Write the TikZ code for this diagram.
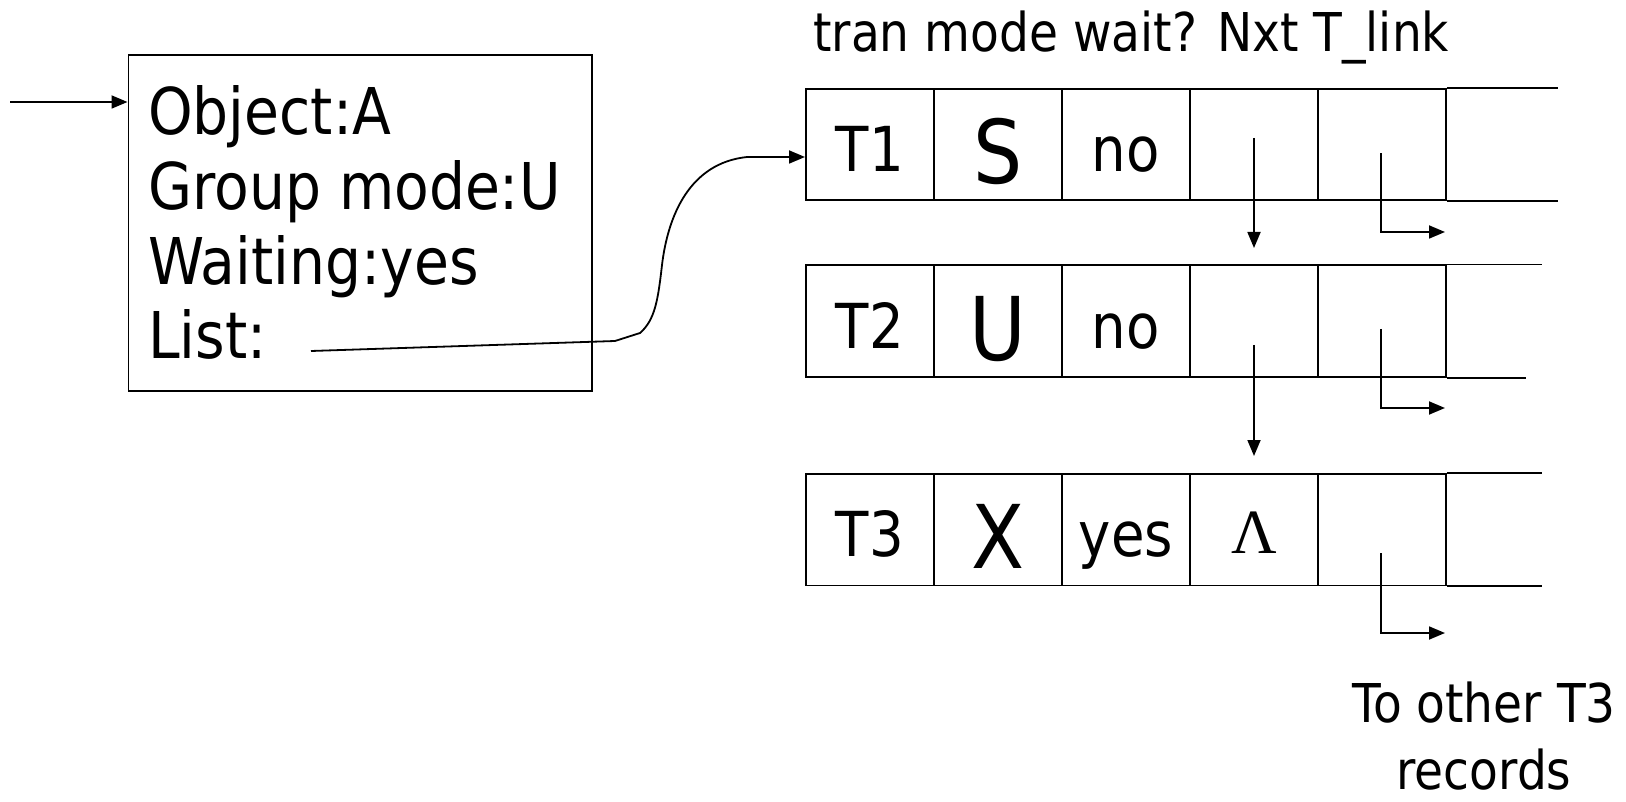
\documentclass[tikz,border=0pt]{standalone}
\usepackage{fontspec}
\setmainfont[FakeStretch=0.88]{DejaVu Sans}
\newfontfamily\grkserif{Liberation Serif}
\usetikzlibrary{arrows.meta}
\begin{document}
\begin{tikzpicture}[x=1pt,y=-1pt,
  ln/.style={line width=1.8pt},
  arr/.style={line width=1.8pt,-{Triangle[length=16pt,width=13pt]}},
  cellbox/.style={draw,line width=1.8pt,minimum width=128pt,minimum height=111.5pt,
    inner sep=0pt,anchor=north west,text height=83pt,text depth=28.5pt,
    font=\fontsize{62}{74}\selectfont},
  bigcell/.style={cellbox,text height=95pt,text depth=16.5pt,font=\fontsize{88}{100}\selectfont},
  lamcell/.style={cellbox,text height=80pt,text depth=31.5pt,font=\fontsize{63}{74}\grkserif},
  boxtxt/.style={anchor=base west,inner sep=0pt,font=\fontsize{64.5}{76}\selectfont},
  lbl/.style={inner sep=0pt,font=\fontsize{53.5}{62}\selectfont}]
\useasboundingbox (0,0) rectangle (1626,802);

% object box
\node[draw,line width=1.8pt,minimum width=463.5pt,minimum height=336pt,anchor=north west,inner sep=0pt] (obj) at (127.5,54) {};
\node[boxtxt] (objA) at (148,135) {Object:A};
\node[boxtxt] (grp) at (148,209.5) {Group mode:U};
\node[boxtxt] (wt) at (148,285) {Waiting:yes};
\node[boxtxt] (lst) at (148,359) {List:};

\coordinate (inA) at (10,102);
\draw[arr] (inA) -- (inA -| obj.west);

% header
\node[lbl,anchor=base west] (hdr) at (813,52) {tran mode wait? Nxt T\_link};

% row 1
\node[cellbox] (c11) at (805,88) {T1};
\node[bigcell] (c12) at (933,88) {S};
\node[cellbox] (c13) at (1061,88) {no};
\node[cellbox] (c14) at (1189,88) {};
\node[cellbox] (c15) at (1317,88) {};
\draw[ln] (c15.north east) -- ++(111,0);
\draw[ln] (c15.south east) -- ++(111,0);

% row 2
\node[cellbox] (c21) at (805,264.5) {T2};
\node[bigcell] (c22) at (933,264.5) {U};
\node[cellbox] (c23) at (1061,264.5) {no};
\node[cellbox] (c24) at (1189,264.5) {};
\node[cellbox] (c25) at (1317,264.5) {};
\draw[ln] (c25.north east) -- ++(95,0);
\draw[ln] (c25.south east) -- ++(79,0);

% row 3
\node[cellbox] (c31) at (805,473) {T3};
\node[bigcell] (c32) at (933,473) {X};
\node[cellbox] (c33) at (1061,473) {yes};
\node[lamcell] (c34) at (1189,473) {Λ};
\node[cellbox] (c35) at (1317,473) {};
\draw[ln] (c35.north east) -- ++(95,0);
\draw[ln] (c35.south east) -- ++(95,0);

% list pointer
\coordinate (ls) at (311,351);
\coordinate (in1) at (805,157);
\draw[arr] (ls) -- (615,341) -- (640,333) .. controls (655,320) and (658,300) .. (662,265)
  .. controls (668,215) and (690,163) .. (747,157) -- (in1);

% Nxt pointers
\coordinate (n1s) at (1254,138);
\coordinate (n1e) at (1254,248);
\draw[arr] (n1s) -- (n1e);
\coordinate (n2s) at (1254,345);
\coordinate (n2e) at (1254,456);
\draw[arr] (n2s) -- (n2e);

% T_link pointers
\coordinate (t1s) at (1381,153.5);
\coordinate (t1e) at (1445,232);
\draw[arr] (t1s) |- (t1e);
\coordinate (t2s) at (1381,329);
\coordinate (t2e) at (1445,408);
\draw[arr] (t2s) |- (t2e);
\coordinate (t3s) at (1381,553);
\coordinate (t3e) at (1445,633);
\draw[arr] (t3s) |- (t3e);

% note
\node[lbl,anchor=base] (note1) at (1484,722) {To other T3};
\node[lbl,anchor=base] (note2) at (1484,789) {records};
\end{tikzpicture}
\end{document}
